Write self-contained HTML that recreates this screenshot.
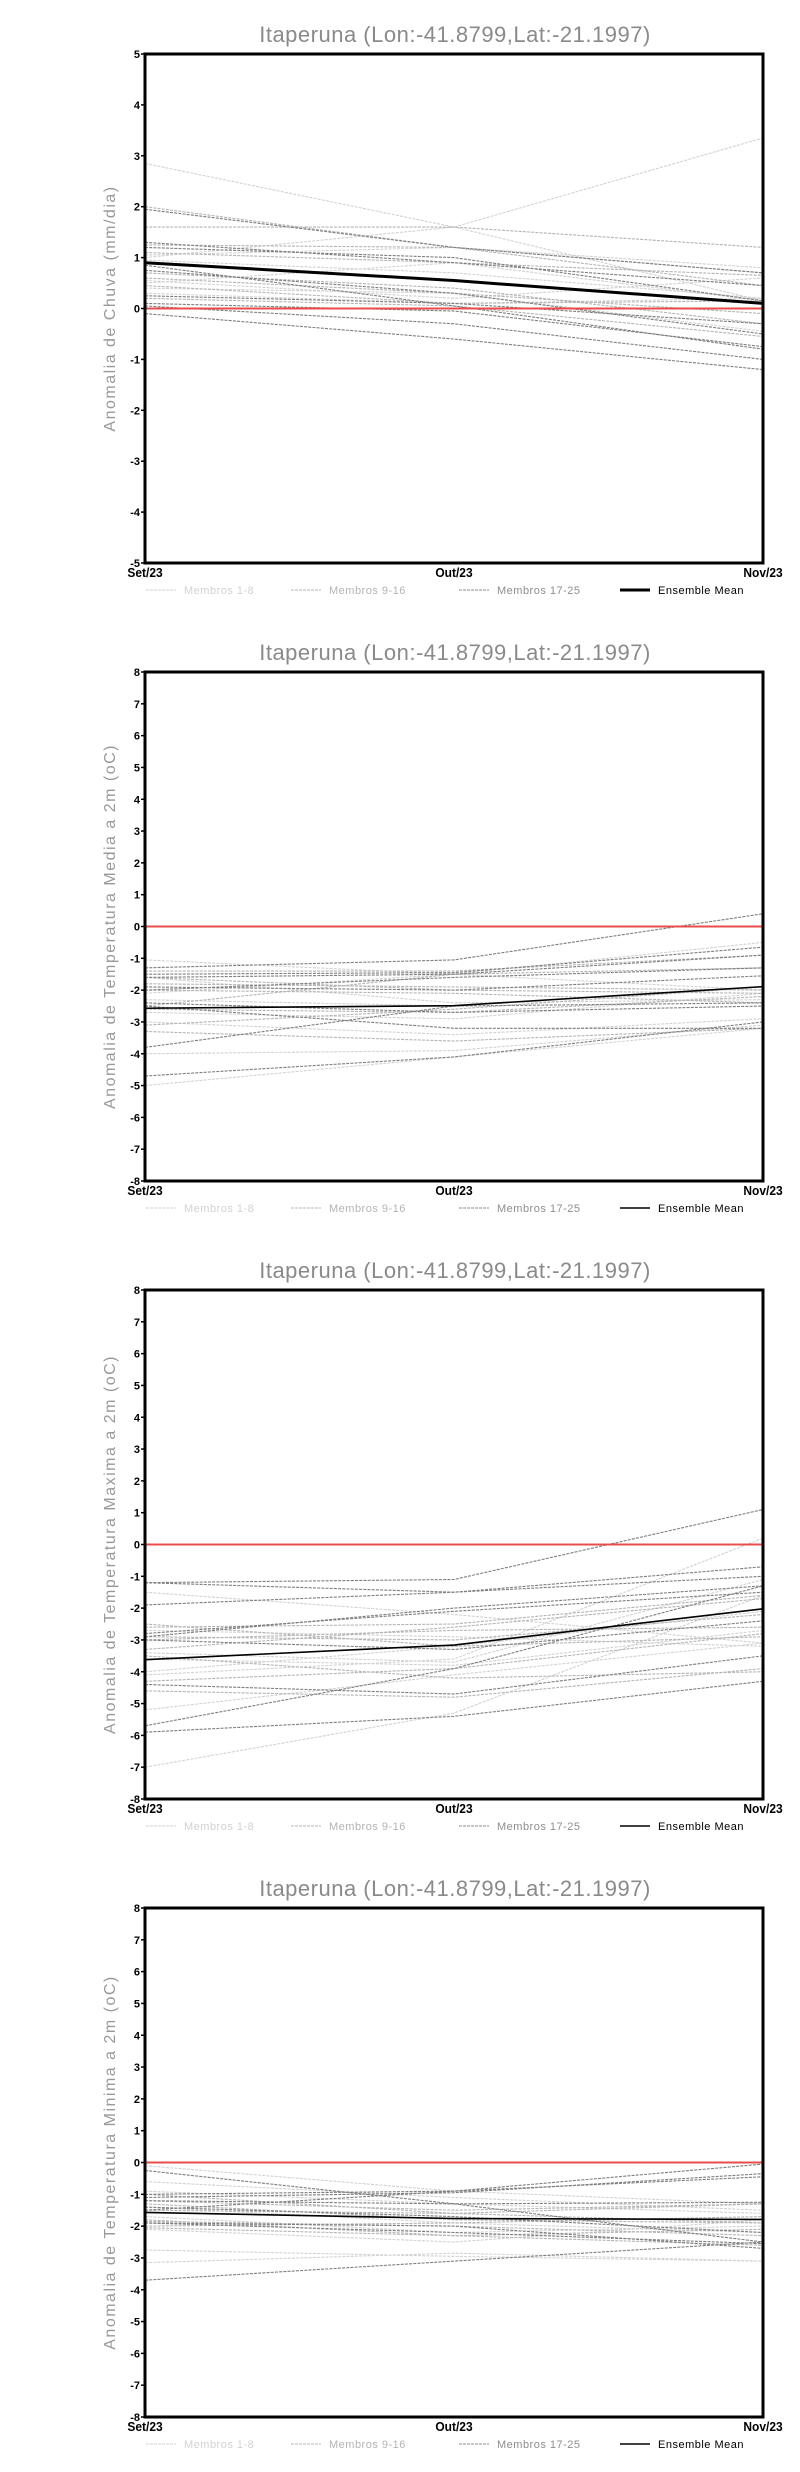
<!DOCTYPE html>
<html><head><meta charset="utf-8"><style>
html,body{margin:0;padding:0;background:#fff;}
svg{display:block;}
</style></head><body>
<svg id="root" width="800" height="2472" viewBox="0 0 800 2472" xmlns="http://www.w3.org/2000/svg"></svg>
<script>
// shared
const months = ["Set/23","Out/23","Nov/23"];
const titles = ["Anomalia de Chuva (mm/dia)","Anomalia de Temperatura Media a 2m (oC)","Anomalia de Temperatura Maxima a 2m (oC)","Anomalia de Temperatura Minima a 2m (oC)"];
const yMins = [-5,-8,-8,-8];
const yMaxs = [5,8,8,8];
// chart 1: rainfall
const rainLight = [[2.85,1.6,0.15],[1.0,1.6,3.35],[1.05,1.2,0.8],[0.5,0.9,0.15],[0.4,0.3,-0.45],[0.95,0.7,0.2],[0.55,0.2,0.6],[0.3,0.1,0.2]];
const rainMid = [[2.0,1.2,0.7],[1.6,1.6,1.2],[1.25,1.2,0.45],[0.7,0.4,-0.3],[0.45,0.1,0.15],[1.1,0.9,0.65],[0.2,0.05,-0.55],[0.6,0.3,-0.1]];
const rainDark = [[1.95,1.2,0.7],[1.3,0.9,0.45],[1.2,1.0,0.15],[0.75,0.3,-0.5],[0.85,0.05,-0.8],[0.1,-0.05,-0.75],[-0.1,-0.6,-1.2],[0.05,-0.3,-1.0],[0.25,0.1,-0.3]];
const rainMean = [0.9,0.55,0.1];
// chart 2: mean temp
const tmedLight = [[-1.05,-1.5,-2.0],[-2.1,-1.5,-0.5],[-3.0,-3.4,-2.9],[-4.0,-3.9,-3.1],[-5.0,-4.1,-3.2],[-2.3,-2.5,-1.9],[-2.7,-2.9,-2.1],[-1.6,-2.4,-2.3]];
const tmedMid = [[-1.4,-1.4,-0.9],[-2.5,-1.5,-1.3],[-1.6,-2.0,-2.1],[-3.3,-3.6,-3.2],[-2.0,-2.1,-2.4],[-2.6,-2.7,-2.2],[-3.1,-2.6,-1.9],[-1.8,-1.9,-2.0]];
const tmedDark = [[-1.3,-1.05,0.4],[-1.5,-1.45,-0.65],[-1.6,-1.5,-0.9],[-2.0,-1.6,-1.3],[-2.5,-3.2,-3.2],[-3.8,-2.5,-2.4],[-4.7,-4.1,-3.0],[-1.9,-2.0,-1.55],[-2.4,-2.7,-2.5]];
const tmedMean = [-2.57,-2.49,-1.89];
// chart 3: max temp
const tmaxLight = [[-1.5,-2.2,-3.1],[-4.1,-3.6,0.2],[-7.0,-5.3,-1.6],[-5.2,-4.1,-3.1],[-2.7,-2.9,-3.2],[-3.4,-3.7,-1.1],[-4.0,-3.2,-2.1],[-3.6,-3.8,-2.7]];
const tmaxMid = [[-2.6,-2.5,-1.6],[-2.9,-3.0,-2.2],[-4.3,-3.9,-2.8],[-4.6,-4.8,-3.9],[-3.3,-2.6,-1.7],[-3.5,-4.2,-4.0],[-3.0,-2.7,-2.6],[-2.5,-3.2,-2.9]];
const tmaxDark = [[-1.2,-1.1,1.1],[-1.9,-1.5,-0.7],[-1.2,-1.5,-1.0],[-2.9,-2.0,-1.3],[-3.0,-3.3,-2.4],[-2.8,-2.1,-1.5],[-5.7,-3.9,-1.3],[-5.9,-5.4,-4.3],[-4.4,-4.7,-3.5]];
const tmaxMean = [-3.62,-3.16,-2.02];
// chart 4: min temp
const tminLight = [[-0.1,-0.9,-1.3],[-0.6,-1.1,-1.5],[-2.75,-2.95,-3.1],[-3.15,-2.85,-3.1],[-1.4,-1.9,-2.2],[-2.1,-2.5,-1.8],[-1.7,-2.2,-2.0],[-0.9,-1.3,-1.6]];
const tminMid = [[-1.2,-1.5,-1.3],[-2.0,-1.9,-1.7],[-1.8,-2.3,-2.1],[-1.3,-1.8,-1.9],[-2.05,-2.3,-2.6],[-1.5,-1.6,-1.3],[-1.85,-2.0,-2.3],[-1.0,-1.6,-1.9]];
const tminDark = [[-0.25,-1.3,-2.5],[-1.0,-0.9,-0.05],[-1.1,-0.95,-0.35],[-1.5,-0.9,-0.45],[-1.2,-1.3,-1.25],[-1.9,-2.0,-2.7],[-3.7,-3.1,-2.5],[-1.9,-2.2,-2.55],[-1.4,-1.7,-2.2]];
const tminMean = [-1.57,-1.76,-1.79];

const lights=[rainLight,tmedLight,tmaxLight,tminLight];
const mids=[rainMid,tmedMid,tmaxMid,tminMid];
const darks=[rainDark,tmedDark,tmaxDark,tminDark];
const means=[rainMean,tmedMean,tmaxMean,tminMean];

const NS="http://www.w3.org/2000/svg";
const root=document.getElementById('root');
function mk(tag,attrs,parent){const e=document.createElementNS(NS,tag);for(const k in attrs)e.setAttribute(k,attrs[k]);(parent||root).appendChild(e);return e;}

const X0=145,X1=763,STRIDE=618,TOP=54,BOT=563;
for(let c=0;c<4;c++){
  const off=c*STRIDE;
  const g=mk('g',{});
  
  
  const yMin=yMins[c],yMax=yMaxs[c];
  const ys=v=>off+BOT-(v-yMin)/(yMax-yMin)*(BOT-TOP);
  const xs=i=>X0+i*(X1-X0)/(months.length-1);
  const t=mk('text',{x:455,y:off+42,'text-anchor':'middle','font-family':'Liberation Sans, sans-serif','font-size':'22','font-weight':'300',fill:'#8a8a8a','letter-spacing':'0.5'},g);
  t.textContent='Itaperuna (Lon:-41.8799,Lat:-21.1997)';
  
  
  const yt=mk('text',{x:0,y:0,transform:`translate(115,${off+(TOP+BOT)/2}) rotate(-90)`,'text-anchor':'middle','font-family':'Liberation Sans, sans-serif','font-size':'16',fill:'#999','letter-spacing':'1.5'},g);
  yt.textContent=titles[c];
  
  
  // members
  const groups=[[lights[c],'#d2d2d2'],[mids[c],'#b4b4b4'],[darks[c],'#7e7e7e']];
  groups.forEach(([arr,col],gi)=>{
    arr.forEach(s=>{
      const p=mk('polyline',{points:s.map((v,i)=>xs(i)+','+ys(v)).join(' '),fill:'none',stroke:col,'stroke-width':'1.1','stroke-dasharray':'3,1.2'},g);
      
      
    });
  });
  const z=mk('line',{x1:X0,x2:X1,y1:ys(0),y2:ys(0),stroke:'#ea4b4b','stroke-width':'2'},g);
  
  
  const m=mk('polyline',{points:means[c].map((v,i)=>xs(i)+','+ys(v)).join(' '),fill:'none',stroke:'#000','stroke-width':c===0?'3':'1.6'},g);
  
  
  const fr=mk('rect',{x:X0,y:off+TOP,width:X1-X0,height:BOT-TOP,fill:'none',stroke:'#000','stroke-width':'3'},g);
  
  
  for(let v=yMin;v<=yMax;v++){
    mk('line',{x1:X0-4,x2:X0,y1:ys(v),y2:ys(v),stroke:'#000','stroke-width':'1.5'},g);
    const tl=mk('text',{x:X0-5,y:ys(v)+4,'text-anchor':'end','font-family':'Liberation Sans Narrow, Liberation Sans, sans-serif','font-size':'11','font-weight':'bold',fill:'#000'},g);
    tl.textContent=String(v);
    
    
  }
  months.forEach((mo,i)=>{
    const xl=mk('text',{x:xs(i),y:off+BOT+14,'text-anchor':'middle','font-family':'Liberation Sans Narrow, Liberation Sans, sans-serif','font-size':'12','font-weight':'bold',fill:'#000',transform:`scale(1,1.1)`},g);
    xl.setAttribute('transform',`translate(0,${-(off+BOT+14)*0.1}) scale(1,1.1)`);
    xl.textContent=mo;
    
    
  });
  // legend
  const ly=off+594;
  const leg=[[146,'#d2d2d2','Membros 1-8',true],[291,'#b4b4b4','Membros 9-16',true],[459,'#8e8e8e','Membros 17-25',true],[620,'#000','Ensemble Mean',false]];
  leg.forEach(([lx,col,txt,dash])=>{
    const le=mk('g',{},g);
    
    
    mk('line',{x1:lx,x2:lx+30,y1:ly-4,y2:ly-4,stroke:col,'stroke-width':dash?'1':(c===0?'3':'1.5'),'stroke-dasharray':dash?'3,1':'none'},le);
    const lt=mk('text',{x:lx+38,y:ly,'font-family':'Liberation Sans, sans-serif','font-size':'11',fill:dash?col:'#000','letter-spacing':'0.5'},le);
    lt.textContent=txt;
  });
}
</script>
</body></html>
